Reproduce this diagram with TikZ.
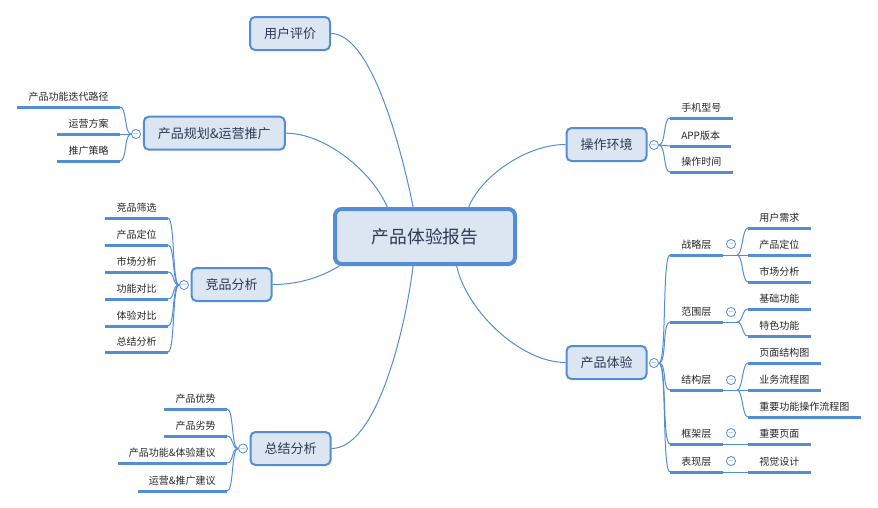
\documentclass[tikz,border=0pt]{standalone}
\usepackage{fontspec}
\setmainfont{Noto Sans CJK SC}
\definecolor{mapline}{RGB}{83,141,213}
\definecolor{mapfill}{RGB}{220,230,242}
\definecolor{maptext}{RGB}{44,58,82}
\definecolor{leaftext}{RGB}{38,38,38}
\begin{document}
\begin{tikzpicture}[x=0.75pt, y=-0.75pt]
\tikzstyle{root}  = [rectangle, rounded corners=5pt, draw=mapline, line width=3pt, fill=mapfill, minimum width=135pt, minimum height=41.25pt, text=maptext, font=\fontsize{13.3}{16}\selectfont]
\tikzstyle{topic} = [rectangle, rounded corners=3.75pt, draw=mapline, line width=1.5pt, fill=mapfill, minimum width=60pt, minimum height=24.75pt, text=maptext, font=\fontsize{9.75}{12}\selectfont]
\tikzstyle{uline} = [draw=mapline, line width=2.25pt]
\tikzstyle{leaf}  = [rectangle, inner xsep=8.25pt, inner ysep=3.15pt, text height=6pt, text depth=1.5pt, text=leaftext, font=\fontsize{7.5}{9}\selectfont, append after command={(\tikzlastnode.south west) edge[uline] (\tikzlastnode.south east)}]
\tikzstyle{fold}  = [circle, draw=mapline, fill=white, line width=0.6pt, minimum size=5.8pt, inner sep=0pt, text=mapline, font=\fontsize{5}{5}\selectfont]
\tikzstyle{link}  = [draw=mapline, line width=0.75pt]
\useasboundingbox (0,0) rectangle (878,507);
\node[root] at (425, 236.5) (0_r_0) {产品体验报告};
\node[topic] at (290, 33.5) (1_t_0) {用户评价};
\node[topic, minimum width=105.75pt] at (214.3, 133.2) (1_t_1) {产品规划\&运营推广};
\node[topic] at (231.5, 284.5) (1_t_2) {竞品分析};
\node[topic] at (290.5, 448.5) (1_t_3) {总结分析};
\node[topic] at (606.5, 144.5) (1_t_4) {操作环境};
\node[topic] at (606.5, 362.5) (1_t_5) {产品体验};
\node[fold] at (136, 134) (1_f_1) {$-$};
\node[fold] at (184, 285) (1_f_2) {$-$};
\node[fold] at (243, 448.5) (1_f_3) {$-$};
\node[fold] at (654, 145) (1_f_4) {$-$};
\node[fold] at (654, 363) (1_f_5) {$-$};
\node[leaf, anchor=south east] at (120, 107) (2_l_0) {产品功能迭代路径};
\node[leaf, anchor=south east] at (120, 134) (2_l_1) {运营方案};
\node[leaf, anchor=south east] at (120, 161) (2_l_2) {推广策略};
\node[leaf, anchor=south east] at (168, 218) (2_l_3) {竞品筛选};
\node[leaf, anchor=south east] at (168, 245) (2_l_4) {产品定位};
\node[leaf, anchor=south east] at (168, 272) (2_l_5) {市场分析};
\node[leaf, anchor=south east] at (168, 299) (2_l_6) {功能对比};
\node[leaf, anchor=south east] at (168, 326) (2_l_7) {体验对比};
\node[leaf, anchor=south east] at (168, 352) (2_l_8) {总结分析};
\node[leaf, anchor=south east] at (227, 409) (2_l_9) {产品优势};
\node[leaf, anchor=south east] at (227, 436) (2_l_10) {产品劣势};
\node[leaf, anchor=south east] at (227, 463) (2_l_11) {产品功能\&体验建议};
\node[leaf, anchor=south east] at (227, 491) (2_l_12) {运营\&推广建议};
\node[leaf, anchor=south west] at (670, 118) (2_l_13) {手机型号};
\node[leaf, anchor=south west] at (670, 146) (2_l_14) {APP版本};
\node[leaf, anchor=south west] at (670, 172) (2_l_15) {操作时间};
\node[leaf, anchor=south west] at (670, 255) (2_s_0) {战略层};
\node[leaf, anchor=south west] at (670, 322) (2_s_1) {范围层};
\node[leaf, anchor=south west] at (670, 390) (2_s_2) {结构层};
\node[leaf, anchor=south west] at (670, 444) (2_s_3) {框架层};
\node[leaf, anchor=south west] at (670, 472) (2_s_4) {表现层};
\node[fold] at (731, 244) (2_f_0) {$-$};
\node[fold] at (731, 312) (2_f_1) {$-$};
\node[fold] at (731, 380) (2_f_2) {$-$};
\node[fold] at (731, 433) (2_f_3) {$-$};
\node[fold] at (731, 461) (2_f_4) {$-$};
\coordinate (2_j_0) at (737, 255);
\coordinate (2_j_1) at (737, 322);
\coordinate (2_j_2) at (737, 390);
\node[leaf, anchor=south west] at (748, 228) (3_l_0) {用户需求};
\node[leaf, anchor=south west] at (748, 255) (3_l_1) {产品定位};
\node[leaf, anchor=south west] at (748, 282) (3_l_2) {市场分析};
\node[leaf, anchor=south west] at (748, 309) (3_l_3) {基础功能};
\node[leaf, anchor=south west] at (748, 336) (3_l_4) {特色功能};
\node[leaf, anchor=south west] at (748, 363) (3_l_5) {页面结构图};
\node[leaf, anchor=south west] at (748, 390) (3_l_6) {业务流程图};
\node[leaf, anchor=south west] at (748, 417) (3_l_7) {重要功能操作流程图};
\node[leaf, anchor=south west] at (748, 444) (3_l_8) {重要页面};
\node[leaf, anchor=south west] at (748, 472) (3_l_9) {视觉设计};
\draw[link] (0_r_0.112) .. controls +(-12,-60) and +(40,0) .. (1_t_0.east);
\draw[link] (0_r_0.142) .. controls +(-15,-35) and +(40,0) .. (1_t_1.east);
\draw[link] (0_r_0.199) .. controls +(-20,12) and +(25,0) .. (1_t_2.east);
\draw[link] (0_r_0.248) .. controls +(-8,65) and +(45,0) .. (1_t_3.east);
\draw[link] (0_r_0.34) .. controls +(12,-30) and +(-40,0) .. (1_t_4.west);
\draw[link] (0_r_0.317) .. controls +(10,45) and +(-45,0) .. (1_t_5.west);
\draw[link] (1_f_1.west) .. controls +(-7,0) and +(7,0) .. (2_l_0.south east);
\draw[link] (1_f_1.west) -- (2_l_1.south east);
\draw[link] (1_f_1.west) .. controls +(-7,0) and +(7,0) .. (2_l_2.south east);
\draw[link] (1_f_2.west) .. controls +(-7,0) and +(7,0) .. (2_l_3.south east);
\draw[link] (1_f_2.west) .. controls +(-7,0) and +(7,0) .. (2_l_4.south east);
\draw[link] (1_f_2.west) .. controls +(-7,0) and +(7,0) .. (2_l_5.south east);
\draw[link] (1_f_2.west) .. controls +(-7,0) and +(7,0) .. (2_l_6.south east);
\draw[link] (1_f_2.west) .. controls +(-7,0) and +(7,0) .. (2_l_7.south east);
\draw[link] (1_f_2.west) .. controls +(-7,0) and +(7,0) .. (2_l_8.south east);
\draw[link] (1_f_3.west) .. controls +(-7,0) and +(7,0) .. (2_l_9.south east);
\draw[link] (1_f_3.west) .. controls +(-7,0) and +(7,0) .. (2_l_10.south east);
\draw[link] (1_f_3.west) .. controls +(-7,0) and +(7,0) .. (2_l_11.south east);
\draw[link] (1_f_3.west) .. controls +(-7,0) and +(7,0) .. (2_l_12.south east);
\draw[link] (1_f_4.east) .. controls +(7,0) and +(-7,0) .. (2_l_13.south west);
\draw[link] (1_f_4.east) -- (2_l_14.south west);
\draw[link] (1_f_4.east) .. controls +(7,0) and +(-7,0) .. (2_l_15.south west);
\draw[link] (1_f_5.east) .. controls +(8,0) and +(-8,0) .. (2_s_0.south west);
\draw[link] (1_f_5.east) .. controls +(8,0) and +(-8,0) .. (2_s_1.south west);
\draw[link] (1_f_5.east) .. controls +(8,0) and +(-8,0) .. (2_s_2.south west);
\draw[link] (1_f_5.east) .. controls +(8,0) and +(-8,0) .. (2_s_3.south west);
\draw[link] (1_f_5.east) .. controls +(8,0) and +(-8,0) .. (2_s_4.south west);
\draw[link] (2_s_0.south east) -- (2_j_0);
\draw[link] (2_s_1.south east) -- (2_j_1);
\draw[link] (2_s_2.south east) -- (2_j_2);
\draw[link] (2_j_0) .. controls +(6,0) and +(-6,0) .. (3_l_0.south west);
\draw[link] (2_j_0) -- (3_l_1.south west);
\draw[link] (2_j_0) .. controls +(6,0) and +(-6,0) .. (3_l_2.south west);
\draw[link] (2_j_1) .. controls +(6,0) and +(-6,0) .. (3_l_3.south west);
\draw[link] (2_j_1) .. controls +(6,0) and +(-6,0) .. (3_l_4.south west);
\draw[link] (2_j_2) .. controls +(6,0) and +(-6,0) .. (3_l_5.south west);
\draw[link] (2_j_2) -- (3_l_6.south west);
\draw[link] (2_j_2) .. controls +(6,0) and +(-6,0) .. (3_l_7.south west);
\draw[link] (2_s_3.south east) -- (3_l_8.south west);
\draw[link] (2_s_4.south east) -- (3_l_9.south west);
\end{tikzpicture}
\end{document}
